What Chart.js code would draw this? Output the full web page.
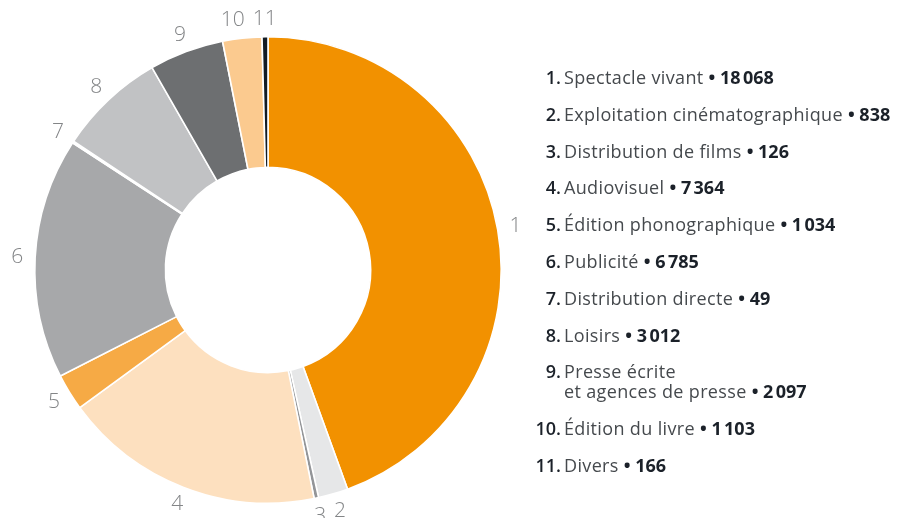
<!DOCTYPE html>
<html lang="fr">
<head>
<meta charset="utf-8">
<script src="https://cdn.jsdelivr.net/npm/chart.js@4.4.1/dist/chart.umd.min.js"></script>
<style>
  html, body { margin:0; padding:0; background:#fff; }
  body { width:906px; height:518px; position:relative; overflow:hidden; font-family:"Open Sans", Lato, sans-serif; }
  #wrap { position:absolute; left:0; top:0; width:536px; height:518px; }
  #legend { position:absolute; left:530px; top:67px; margin:0; padding:0; list-style:none; }
  #legend li { display:flex; font-size:18px; font-weight:400; line-height:20px; margin-bottom:16.8px; color:#45494d; letter-spacing:0.35px; }
  #legend .n { width:34px; text-align:right; padding-right:3px; color:#1b2129; font-weight:600; box-sizing:border-box; letter-spacing:0; }
  #legend b { color:#1b2129; font-weight:700; letter-spacing:0; }
</style>
</head>
<body>
<div id="wrap"><canvas id="donut"></canvas></div>
<ul id="legend"></ul>
<script>
/* ---- data ---- */
const categories = ['Spectacle vivant', 'Exploitation cinématographique', 'Distribution de films', 'Audiovisuel',
  'Édition phonographique', 'Publicité', 'Distribution directe', 'Loisirs',
  'Presse écrite\net agences de presse', 'Édition du livre', 'Divers'];
const values     = [18068, 838, 126, 7364, 1034, 6785, 49, 3012, 2097, 1103, 166];
const colors     = ['#f29100', '#e6e7e8', '#939598', '#fde0bf', '#f6aa45', '#a7a8aa',
                    '#fbcf9c', '#c1c2c4', '#6d6f71', '#fbca8f', '#131c24'];

// 18068 -> "18 068" with a narrow space
const fmt = v => String(v).replace(/\B(?=(\d{3})+(?!\d))/g, '\u202f');

/* ---- legend (html) ---- */
document.getElementById('legend').innerHTML = categories.map((c, i) => `
  <li><span class="n">${i + 1}.</span><span>${c.replace('\n', '<br>')} <b>• ${fmt(values[i])}</b></span></li>`).join('');

/* ---- outside number labels ---- */
const numLabels = {
  id: 'numLabels',
  afterDatasetsDraw(chart) {
    const ctx = chart.ctx;
    ctx.save();
    ctx.font = '300 21px "Open Sans", Lato, sans-serif';
    ctx.fillStyle = '#838587';
    ctx.textAlign = 'center';
    ctx.textBaseline = 'middle';
    const pos = chart.getDatasetMeta(0).data.map((arc, i) => {
      const a = (arc.startAngle + arc.endAngle) / 2;
      const r = arc.outerRadius + 18;
      const t = String(i + 1);
      return { t, x: arc.x + Math.cos(a) * r, y: arc.y + Math.sin(a) * r, w: ctx.measureText(t).width };
    });
    // push crowded labels apart (walk backwards so the later one stays put)
    for (let i = pos.length - 2; i >= 0; i--) {
      const p = pos[i], q = pos[i + 1];
      if (Math.abs(p.y - q.y) < 20) {
        const gap = (q.x - q.w / 2) - (p.x + p.w / 2) - 8;
        if (gap < 0 && p.x < q.x) p.x += gap;
        if (gap < 0 && p.x > q.x) { const g2 = (p.x - p.w / 2) - (q.x + q.w / 2) - 8; if (g2 < 0) p.x -= g2; }
      }
    }
    pos.forEach(p => ctx.fillText(p.t, p.x, p.y));
    ctx.restore();
  }
};

new Chart(document.getElementById('donut'), {
  type: 'doughnut',
  data: { labels: categories, datasets: [{ data: values, backgroundColor: colors, borderColor: '#fff', borderWidth: 1.6 }] },
  options: {
    responsive: true, maintainAspectRatio: false, animation: false,
    cutout: '44%',
    layout: { padding: { left: 34, right: 34, top: 36, bottom: 14 } },
    plugins: { legend: { display: false }, tooltip: { enabled: false } }
  },
  plugins: [numLabels]
});
</script>
</body>
</html>
